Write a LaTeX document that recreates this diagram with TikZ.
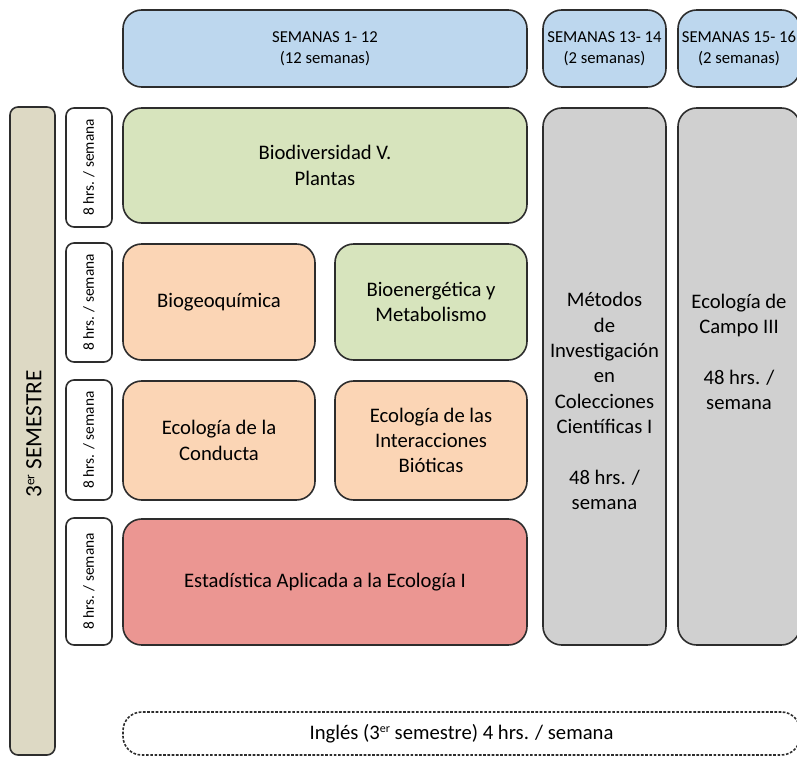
\documentclass[tikz,border=0pt]{standalone}
\usepackage{fontspec}
\setmainfont{Carlito}
\usetikzlibrary{positioning}
\definecolor{wkblue}{RGB}{189,215,238}
\definecolor{wkgreen}{RGB}{215,228,189}
\definecolor{wkpeach}{RGB}{251,213,181}
\definecolor{wkred}{RGB}{235,150,146}
\definecolor{wkgray}{RGB}{208,208,208}
\definecolor{wktan}{RGB}{221,217,196}
\definecolor{wkline}{RGB}{45,45,45}

\begin{document}
\begin{tikzpicture}[
  x=0.75pt,y=-0.75pt,
  every node/.style={font=\fontsize{15.5}{19}\selectfont},
  box/.style={draw=wkline,line width=1.2pt,rounded corners=14pt,align=center,inner sep=0pt},
  week/.style={box,fill=wkblue,font=\fontsize{12.5}{15.5}\selectfont},
  hrs/.style={draw=wkline,line width=1.2pt,rounded corners=6pt,fill=white,inner sep=0pt,
    minimum width=34.5pt,font=\fontsize{11.5}{13}\selectfont},
  lbl/.style={align=center,inner sep=0pt}
]
\useasboundingbox (0,0) rectangle (797,757);

% semanas
\node[week,minimum width=303pt,minimum height=57.75pt] (s1) at (325,48.5) {SEMANAS 1- 12\\(12 semanas)};
\node[week,minimum width=92.25pt,minimum height=57.75pt] (s2) at (604.5,48.5) {SEMANAS 13- 14\\(2 semanas)};
\node[week,minimum width=91.5pt,minimum height=57.75pt] (s3) at (739,48.5) {SEMANAS 15- 16\\(2 semanas)};

% semestre
\node[box,fill=wktan,rounded corners=6pt,minimum width=33.75pt,minimum height=486pt] (sem) at (32.5,431) {};
\node[lbl,rotate=90] (semt) at (34,434) {\fontsize{17.5}{20}\selectfont 3{\fontsize{10}{10}\selectfont\raisebox{1.1ex}{er}} SEMESTRE};

% horas
\node[hrs,minimum height=89.25pt] (h1) at (89,167.5) {\rotatebox{90}{8 hrs. / semana}};
\node[hrs,minimum height=89.25pt] (h2) at (89,302.5) {\rotatebox{90}{8 hrs. / semana}};
\node[hrs,minimum height=90pt] (h3) at (89,440) {\rotatebox{90}{8 hrs. / semana}};
\node[hrs,minimum height=95.25pt] (h4) at (89,581.5) {\rotatebox{90}{8 hrs. / semana}};

% materias
\node[box,fill=wkgreen,minimum width=303pt,minimum height=86.25pt] (bio) at (325,165.5) {Biodiversidad V.\\Plantas};
\node[box,fill=wkpeach,minimum width=144pt,minimum height=87pt] (bgq) at (219,302) {Biogeoquímica};
\node[box,fill=wkgreen,minimum width=144pt,minimum height=87pt] (ben) at (431,302) {Bioenergética y\\Metabolismo};
\node[box,fill=wkpeach,minimum width=144pt,minimum height=89.25pt] (con) at (219,440.5) {Ecología de la\\Conducta};
\node[box,fill=wkpeach,minimum width=144pt,minimum height=89.25pt] (int) at (431,440.5) {Ecología de las\\Interacciones\\Bióticas};
\node[box,fill=wkred,minimum width=303pt,minimum height=94.5pt] (est) at (325,582) {Estadística Aplicada a la Ecología I};

% campo
\node[box,fill=wkgray,minimum width=92.25pt,minimum height=402.75pt] (met) at (604.5,376.5) {};
\node[lbl] (mett) at (604.5,401) {Métodos\\de\\Investigación\\en\\Colecciones\\Científicas I\\[19pt]48 hrs. /\\semana};
\node[box,fill=wkgray,minimum width=91.5pt,minimum height=402.75pt] (cam) at (739,376.5) {};
\node[lbl] (camt) at (739,352) {Ecología de\\Campo III\\[19pt]48 hrs. /\\semana};

% ingles
\node[box,dash pattern=on 2pt off 1.2pt,fill=white,minimum width=507.75pt,minimum height=32.25pt] (ing) at (461.5,733.5) {Inglés (3{\fontsize{9}{9}\selectfont\raisebox{1.1ex}{er}} semestre) 4 hrs. / semana};
\end{tikzpicture}
\end{document}
